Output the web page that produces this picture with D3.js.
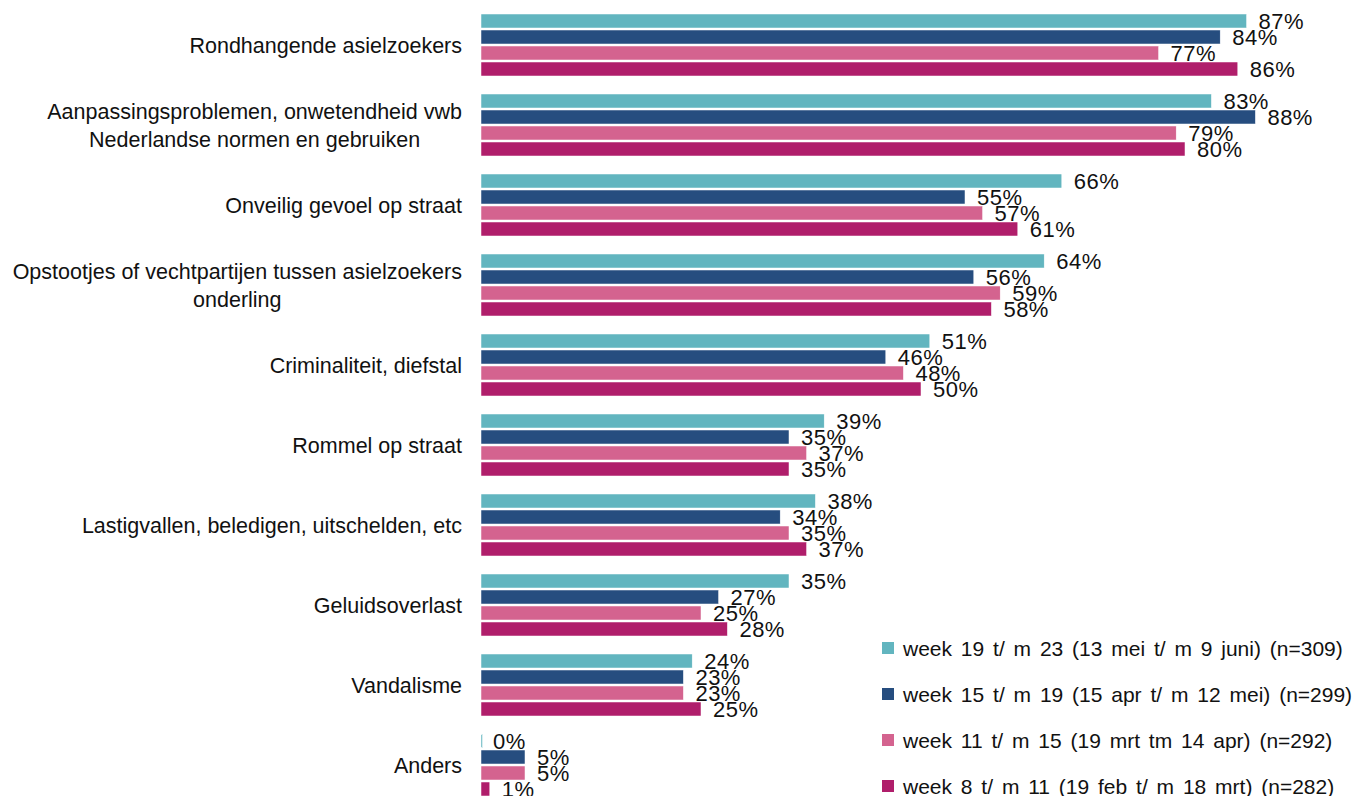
<!DOCTYPE html>
<html>
<head>
<meta charset="utf-8">
<script src="https://cdn.jsdelivr.net/npm/d3@7"></script>
<style>
  body { margin: 0; background: #fff; }
  text { font-family: "Liberation Sans", Arial, sans-serif; fill: #111; }
</style>
</head>
<body>
<div id="chart"></div>
<script>
(function(){

// categories (each entry is the lines of the label)
var categories = [
  ["Rondhangende asielzoekers"],
  ["Aanpassingsproblemen, onwetendheid vwb", "Nederlandse normen en gebruiken"],
  ["Onveilig gevoel op straat"],
  ["Opstootjes of vechtpartijen tussen asielzoekers", "onderling"],
  ["Criminaliteit, diefstal"],
  ["Rommel op straat"],
  ["Lastigvallen, beledigen, uitschelden, etc"],
  ["Geluidsoverlast"],
  ["Vandalisme"],
  ["Anders"]
];

var seriesNames = [
  "week 19 t/ m 23 (13 mei t/ m 9 juni) (n=309)",
  "week 15 t/ m 19 (15 apr t/ m 12 mei) (n=299)",
  "week 11 t/ m 15 (19 mrt tm 14 apr) (n=292)",
  "week 8 t/ m 11 (19 feb t/ m 18 mrt) (n=282)"
];

var week19 = [87, 83, 66, 64, 51, 39, 38, 35, 24, 0];
var week15 = [84, 88, 55, 56, 46, 35, 34, 27, 23, 5];
var week11 = [77, 79, 57, 59, 48, 37, 35, 25, 23, 5];
var week8  = [86, 80, 61, 58, 50, 35, 37, 28, 25, 1];

var colors = ["#62b5bf", "#264d7f", "#d4638f", "#b01e6b"];

var width = 1356, height = 796;
var series = [week19, week15, week11, week8];

var svg = d3.select("#chart")
  .append("svg")
    .attr("width", width)
    .attr("height", height);

var y = d3.scaleBand()
  .domain(d3.range(categories.length))
  .range([5, 805])
  .paddingInner(0.225)
  .paddingOuter(0.1125);

var ySub = d3.scaleBand()
  .domain(d3.range(series.length))
  .range([0, y.bandwidth()])
  .paddingInner(0.125);

var x = d3.scaleLinear()
  .domain([0, 100])
  .range([481, 1361]);

var groups = svg.selectAll("g.cat")
  .data(categories)
  .enter()
  .append("g")
    .attr("class", "cat")
    .attr("transform", function(d, i){ return "translate(0," + y(i) + ")"; });

// bars
groups.selectAll("rect")
  .data(function(d, i){ return series.map(function(s, j){ return {s: j, v: s[i]}; }); })
  .enter()
  .append("rect")
    .attr("x", x(0))
    .attr("y", function(d){ return ySub(d.s); })
    .attr("width", function(d){ return Math.max(x(d.v) - x(0), 1.5); })
    .attr("height", ySub.bandwidth())
    .style("fill", function(d){ return colors[d.s]; })
    .style("stroke", "#fff")
    .style("stroke-width", 0.5);

// value labels
groups.selectAll("text.val")
  .data(function(d, i){ return series.map(function(s, j){ return {s: j, v: s[i]}; }); })
  .enter()
  .append("text")
    .attr("class", "val")
    .attr("x", function(d){ return x(d.v) + 12; })
    .attr("y", function(d){ return ySub(d.s) + ySub.bandwidth() / 2; })
    .attr("dy", "0.36em")
    .attr("font-size", "22px")
    .attr("letter-spacing", "0.5px")
    .text(function(d){ return d.v + "%"; });

// category labels
groups.append("text")
    .attr("class", "cat-label")
    .attr("text-anchor", "end")
    .attr("font-size", "21.5px")
    .attr("x", 462)
    .attr("y", function(d){ return y.bandwidth() / 2 - (d.length - 1) * 14; })
  .selectAll("tspan")
  .data(function(d){ return d; })
  .enter()
  .append("tspan")
    .attr("x", 462)
    .attr("dy", function(d, i){ return i == 0 ? "0.36em" : "28px"; })
    .text(function(d){ return d; });

// centre the second line of two-line labels under the first
groups.selectAll("text.cat-label").each(function(d){
  if (d.length < 2) return;
  var t = d3.select(this).selectAll("tspan").nodes();
  var w0 = t[0].getComputedTextLength(), w1 = t[1].getComputedTextLength();
  d3.select(t[1]).attr("x", 462 - (w0 - w1) / 2);
});

// legend
var legend = svg.append("g")
  .selectAll("g")
  .data(seriesNames)
  .enter()
  .append("g")
    .attr("transform", function(d, i){ return "translate(882," + (648 + i * 46) + ")"; });

legend.append("rect")
    .attr("x", 0)
    .attr("y", -6)
    .attr("width", 12)
    .attr("height", 12)
    .style("fill", function(d, i){ return colors[i]; });

legend.append("text")
    .attr("x", 21)
    .attr("dy", "0.36em")
    .attr("font-size", "21px")
    .attr("word-spacing", "3px")
    .text(function(d){ return d; });

})();
</script>
</body>
</html>
